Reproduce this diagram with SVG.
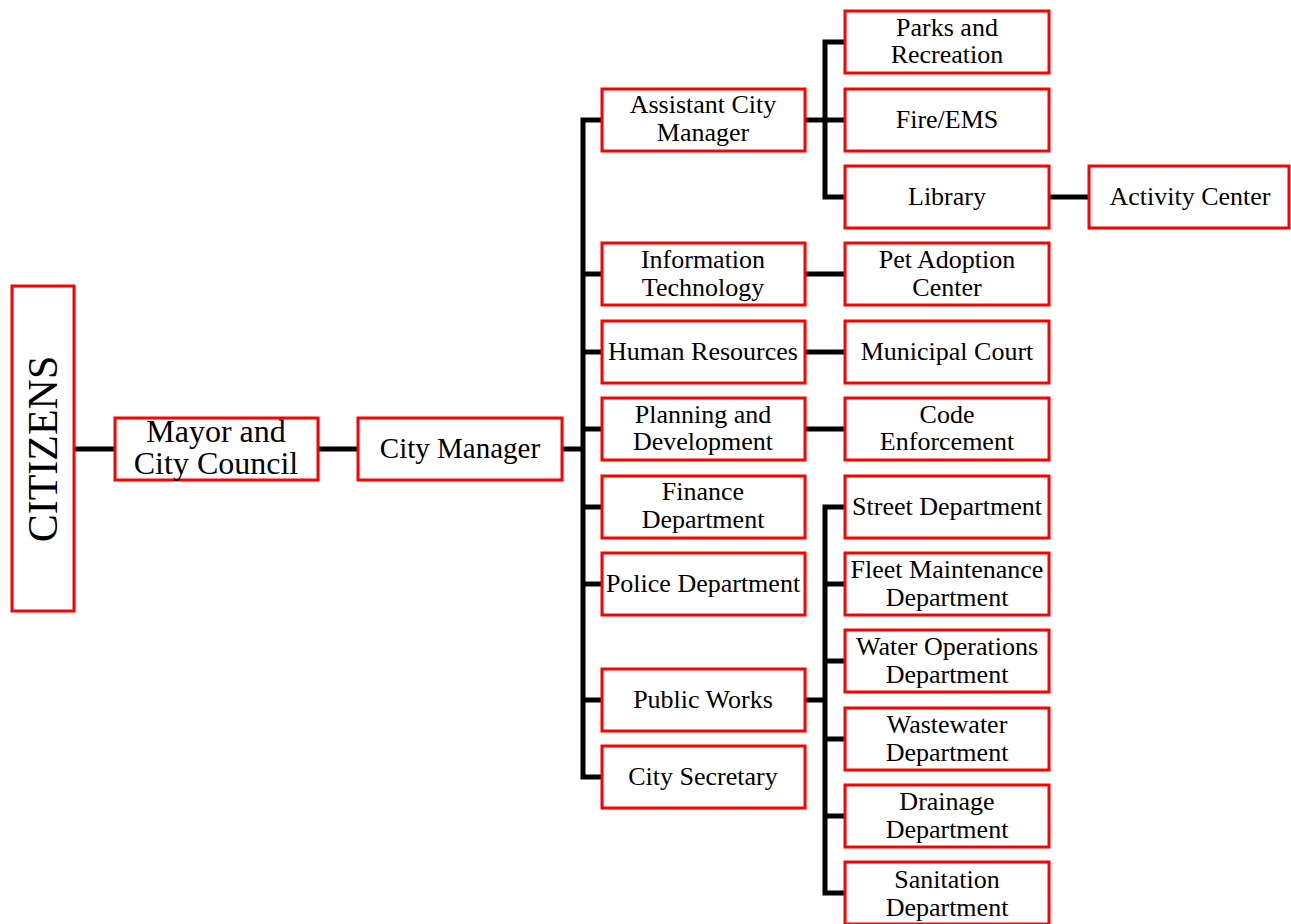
<svg xmlns="http://www.w3.org/2000/svg" width="1291" height="924" viewBox="0 0 1291 924">
<style>
.box{fill:#fff;stroke:#ff0000;stroke-width:3}
.t{font-family:"Liberation Serif","Times New Roman",serif;font-size:26px;fill:#000;text-anchor:middle}
.tl{font-family:"Liberation Serif","Times New Roman",serif;font-size:29px;fill:#000;text-anchor:middle}
.tm{font-family:"Liberation Serif","Times New Roman",serif;font-size:32px;fill:#000;text-anchor:middle}
.c{stroke:#000;stroke-width:5;fill:none;stroke-linecap:square}
</style>
<rect width="1291" height="924" fill="#fff"/>
<g id="connectors">
<path class="c" d="M74 449H115M318 449H358M562 449H583M583 120V777M583 120H602M583 274H602M583 352H602M583 429H602M583 507H602M583 584H602M583 700H602M583 777H602"/>
<path class="c" d="M805 120H825M825 42V197M825 42H845M825 120H845M825 197H845M1049 197H1089"/>
<path class="c" d="M805 274H845M805 352H845M805 429H845"/>
<path class="c" d="M805 700H825M825 507V893M825 507H845M825 584H845M825 661H845M825 739H845M825 816H845M825 893H845"/>
</g>
<g id="citizens"><rect class="box" x="12" y="286" width="62" height="325"/><text transform="translate(57,449) rotate(-90)" font-family="Liberation Serif, serif" font-size="42" text-anchor="middle">CITIZENS</text></g>
<g id="mayor"><rect class="box" x="115" y="418" width="203" height="62"/><text class="tm" x="216" y="442">Mayor and</text><text class="tm" x="216" y="474">City Council</text></g>
<g id="city-manager"><rect class="box" x="358" y="418" width="204" height="62"/><text class="tl" x="460" y="458">City Manager</text></g>
<g id="assistant-city-manager"><rect class="box" x="602" y="89" width="203" height="62"/><text class="t" x="703" y="113">Assistant City</text><text class="t" x="703" y="141">Manager</text></g>
<g id="information-technology"><rect class="box" x="602" y="243" width="203" height="62"/><text class="t" x="703" y="268">Information</text><text class="t" x="703" y="296">Technology</text></g>
<g id="human-resources"><rect class="box" x="602" y="321" width="203" height="62"/><text class="t" x="703" y="360">Human Resources</text></g>
<g id="planning-development"><rect class="box" x="602" y="398" width="203" height="62"/><text class="t" x="703" y="423">Planning and</text><text class="t" x="703" y="450">Development</text></g>
<g id="finance"><rect class="box" x="602" y="476" width="203" height="62"/><text class="t" x="703" y="500">Finance</text><text class="t" x="703" y="528">Department</text></g>
<g id="police"><rect class="box" x="602" y="553" width="203" height="62"/><text class="t" x="703" y="592">Police Department</text></g>
<g id="public-works"><rect class="box" x="602" y="669" width="203" height="62"/><text class="t" x="703" y="708">Public Works</text></g>
<g id="city-secretary"><rect class="box" x="602" y="746" width="203" height="62"/><text class="t" x="703" y="785">City Secretary</text></g>
<g id="parks"><rect class="box" x="845" y="11" width="204" height="62"/><text class="t" x="947" y="36">Parks and</text><text class="t" x="947" y="63">Recreation</text></g>
<g id="fire-ems"><rect class="box" x="845" y="89" width="204" height="62"/><text class="t" x="947" y="128">Fire/EMS</text></g>
<g id="library"><rect class="box" x="845" y="166" width="204" height="62"/><text class="t" x="947" y="205">Library</text></g>
<g id="activity-center"><rect class="box" x="1089" y="166" width="200" height="62"/><text class="t" x="1190" y="205">Activity Center</text></g>
<g id="pet-adoption"><rect class="box" x="845" y="243" width="204" height="62"/><text class="t" x="947" y="268">Pet Adoption</text><text class="t" x="947" y="296">Center</text></g>
<g id="municipal-court"><rect class="box" x="845" y="321" width="204" height="62"/><text class="t" x="947" y="360">Municipal Court</text></g>
<g id="code-enforcement"><rect class="box" x="845" y="398" width="204" height="62"/><text class="t" x="947" y="423">Code</text><text class="t" x="947" y="450">Enforcement</text></g>
<g id="street"><rect class="box" x="845" y="476" width="204" height="62"/><text class="t" x="947" y="515">Street Department</text></g>
<g id="fleet"><rect class="box" x="845" y="553" width="204" height="62"/><text class="t" x="947" y="578">Fleet Maintenance</text><text class="t" x="947" y="606">Department</text></g>
<g id="water"><rect class="box" x="845" y="630" width="204" height="62"/><text class="t" x="947" y="655">Water Operations</text><text class="t" x="947" y="683">Department</text></g>
<g id="wastewater"><rect class="box" x="845" y="708" width="204" height="62"/><text class="t" x="947" y="733">Wastewater</text><text class="t" x="947" y="761">Department</text></g>
<g id="drainage"><rect class="box" x="845" y="785" width="204" height="62"/><text class="t" x="947" y="810">Drainage</text><text class="t" x="947" y="838">Department</text></g>
<g id="sanitation"><rect class="box" x="845" y="862" width="204" height="62"/><text class="t" x="947" y="888">Sanitation</text><text class="t" x="947" y="916">Department</text></g>
</svg>
